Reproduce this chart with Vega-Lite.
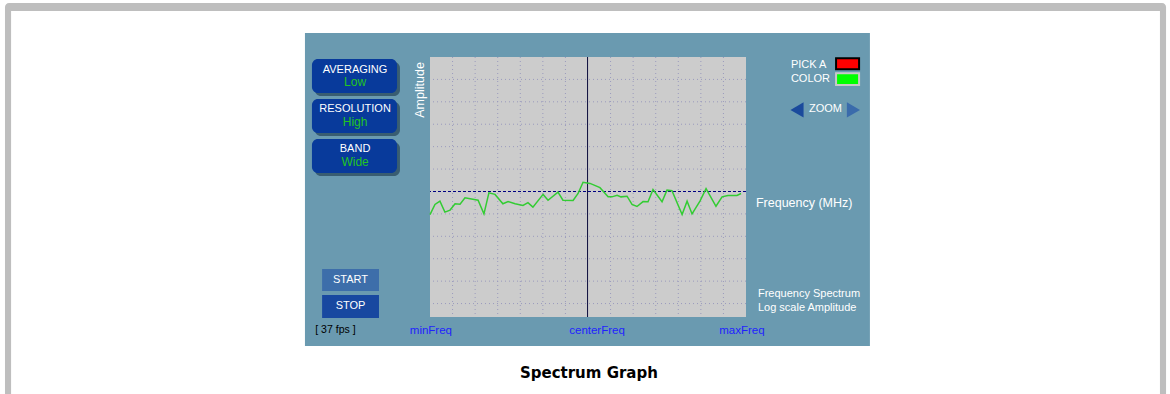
{
  "$schema": "https://vega.github.io/schema/vega-lite/v6.json",
  "width": 316,
  "height": 260,
  "autosize": "none",
  "padding": {"left": 430, "top": 57, "right": 424, "bottom": 77},
  "background": "#ffffff",
  "config": {"view": {"stroke": null}},
  "resolve": {"scale": {"color": "independent", "fill": "independent", "stroke": "independent", "shape": "independent"}},
  "datasets": {
    "frame": [{"part": "frame", "x": -18.83, "x2": 32.61, "y": 8.41, "y2": -9.3}],
    "boxes": [
      {"part": "page", "x": -18.56, "x2": 32.34, "y": 8.05, "y2": -9.3},
      {"part": "panel", "x": -5.54, "x2": 19.49, "y": 7.07, "y2": -6.89},
      {"part": "plot", "x": 0, "x2": 14, "y": 6.0, "y2": -5.6},
      {"part": "start", "x": -4.78, "x2": -2.26, "y": -3.46, "y2": -4.44},
      {"part": "stop", "x": -4.78, "x2": -2.26, "y": -4.62, "y2": -5.64}
    ],
    "shadows": [
      {"x": -5.10, "x2": -1.33, "y": 5.78, "y2": 4.26},
      {"x": -5.10, "x2": -1.33, "y": 3.99, "y2": 2.47},
      {"x": -5.10, "x2": -1.33, "y": 2.20, "y2": 0.69}
    ],
    "buttons": [
      {"x": -5.23, "x2": -1.46, "y": 5.91, "y2": 4.39},
      {"x": -5.23, "x2": -1.46, "y": 4.13, "y2": 2.61},
      {"x": -5.23, "x2": -1.46, "y": 2.34, "y2": 0.82}
    ],
    "swatches": [
      {"part": "red", "x": 17.99, "x2": 19.01, "y": 5.94, "y2": 5.45},
      {"part": "green", "x": 17.99, "x2": 19.01, "y": 5.27, "y2": 4.75}
    ],
    "vgrid": [{"x": 1}, {"x": 2}, {"x": 3}, {"x": 4}, {"x": 5}, {"x": 6}, {"x": 8}, {"x": 9}, {"x": 10}, {"x": 11}, {"x": 12}, {"x": 13}],
    "hgrid": [{"y": 5}, {"y": 4}, {"y": 3}, {"y": 2}, {"y": 1}, {"y": -1}, {"y": -2}, {"y": -3}, {"y": -4}, {"y": -5}],
    "center": [{"x": 6.98}],
    "ref": [{"y": 0}],
    "spectrum": [
      {"f": 0.00, "amp": -1.03}, {"f": 0.22, "amp": -0.58}, {"f": 0.44, "amp": -0.43}, {"f": 0.66, "amp": -0.92},
      {"f": 0.89, "amp": -0.83}, {"f": 1.11, "amp": -0.55}, {"f": 1.33, "amp": -0.57}, {"f": 1.55, "amp": -0.28},
      {"f": 2.13, "amp": -0.39}, {"f": 2.39, "amp": -1.00}, {"f": 2.61, "amp": -0.06}, {"f": 2.88, "amp": -0.13},
      {"f": 3.23, "amp": -0.55}, {"f": 3.46, "amp": -0.45}, {"f": 3.77, "amp": -0.55}, {"f": 4.12, "amp": -0.62},
      {"f": 4.34, "amp": -0.50}, {"f": 4.56, "amp": -0.70}, {"f": 5.01, "amp": -0.13}, {"f": 5.23, "amp": -0.39},
      {"f": 5.67, "amp": -0.03}, {"f": 5.89, "amp": -0.39}, {"f": 6.34, "amp": -0.40}, {"f": 6.56, "amp": -0.09},
      {"f": 6.78, "amp": 0.41}, {"f": 7.09, "amp": 0.36}, {"f": 7.53, "amp": 0.17}, {"f": 7.89, "amp": -0.24},
      {"f": 8.06, "amp": -0.24}, {"f": 8.29, "amp": -0.17}, {"f": 8.46, "amp": -0.24}, {"f": 8.73, "amp": -0.21},
      {"f": 8.95, "amp": -0.58}, {"f": 9.17, "amp": -0.67}, {"f": 9.44, "amp": -0.45}, {"f": 9.66, "amp": -0.46},
      {"f": 9.88, "amp": 0.09}, {"f": 10.28, "amp": -0.46}, {"f": 10.50, "amp": 0.06}, {"f": 10.72, "amp": 0.04},
      {"f": 11.17, "amp": -1.03}, {"f": 11.39, "amp": -0.43}, {"f": 11.61, "amp": -1.00}, {"f": 11.96, "amp": -0.43},
      {"f": 12.23, "amp": 0.13}, {"f": 12.67, "amp": -0.66}, {"f": 12.94, "amp": -0.24}, {"f": 13.20, "amp": -0.18},
      {"f": 13.60, "amp": -0.18}, {"f": 13.78, "amp": -0.09}
    ],
    "arrowLeft": [{"x": 16.26, "y": 3.64}],
    "arrowRight": [{"x": 18.76, "y": 3.64}],
    "whiteSmall": [
      {"label": "AVERAGING", "x": -3.32, "y": 5.42},
      {"label": "RESOLUTION", "x": -3.32, "y": 3.68},
      {"label": "BAND", "x": -3.32, "y": 1.90}
    ],
    "whiteMid": [
      {"label": "START", "x": -3.52, "y": -3.95},
      {"label": "STOP", "x": -3.52, "y": -5.13},
      {"label": "ZOOM", "x": 17.52, "y": 3.68}
    ],
    "whiteLeft": [
      {"label": "PICK A", "x": 15.99, "y": 5.66},
      {"label": "COLOR", "x": 15.99, "y": 5.02},
      {"label": "Frequency Spectrum", "x": 14.53, "y": -4.57},
      {"label": "Log scale Amplitude", "x": 14.53, "y": -5.20}
    ],
    "axisTitle": [{"label": "Frequency (MHz)", "x": 14.44, "y": -0.51}],
    "ampTitle": [{"label": "Amplitude", "x": -0.44, "y": 4.53}],
    "greenText": [
      {"label": "Low", "x": -3.32, "y": 4.88},
      {"label": "High", "x": -3.32, "y": 3.10},
      {"label": "Wide", "x": -3.32, "y": 1.31}
    ],
    "fps": [{"label": "[ 37 fps ]", "x": -4.19, "y": -6.18}],
    "freqLabels": [
      {"label": "minFreq", "x": 0.04, "y": -6.23},
      {"label": "centerFreq", "x": 7.40, "y": -6.23},
      {"label": "maxFreq", "x": 13.82, "y": -6.23}
    ],
    "title": [{"label": "Spectrum Graph", "x": 7.04, "y": -8.10}]
  },
  "layer": [
    {
      "data": {"name": "frame"},
      "mark": {"type": "rect", "cornerRadius": 4, "color": "#bebebe"},
      "encoding": {
        "x": {"field": "x", "type": "quantitative", "scale": {"domain": [0, 14], "nice": false, "zero": false}, "axis": null},
        "x2": {"field": "x2"},
        "y": {"field": "y", "type": "quantitative", "scale": {"domain": [-5.6, 6.0], "nice": false, "zero": false}, "axis": null},
        "y2": {"field": "y2"}
      }
    },
    {
      "data": {"name": "boxes"},
      "mark": {"type": "rect"},
      "encoding": {
        "x": {"field": "x", "type": "quantitative", "axis": null},
        "x2": {"field": "x2"},
        "y": {"field": "y", "type": "quantitative", "axis": null},
        "y2": {"field": "y2"},
        "color": {"field": "part", "type": "nominal", "legend": null,
          "scale": {"domain": ["page", "panel", "plot", "start", "stop"], "range": ["#ffffff", "#6a9ab0", "#cccccc", "#3d6eaa", "#1848a0"]}}
      }
    },
    {
      "data": {"name": "vgrid"},
      "mark": {"type": "rule", "color": "#9a9abd", "strokeDash": [1, 3], "strokeWidth": 1},
      "encoding": {"x": {"field": "x", "type": "quantitative", "axis": null}}
    },
    {
      "data": {"name": "hgrid"},
      "mark": {"type": "rule", "color": "#9a9abd", "strokeDash": [1, 3], "strokeWidth": 1},
      "encoding": {"y": {"field": "y", "type": "quantitative", "axis": null}}
    },
    {
      "data": {"name": "ref"},
      "mark": {"type": "rule", "color": "#000080", "strokeDash": [3, 2], "strokeWidth": 1.2},
      "encoding": {"y": {"field": "y", "type": "quantitative", "axis": null}}
    },
    {
      "data": {"name": "center"},
      "mark": {"type": "rule", "color": "#0c0c3c", "strokeWidth": 1},
      "encoding": {"x": {"field": "x", "type": "quantitative", "axis": null}}
    },
    {
      "data": {"name": "spectrum"},
      "mark": {"type": "line", "color": "#33cc33", "strokeWidth": 1.5},
      "encoding": {
        "x": {"field": "f", "type": "quantitative", "axis": null},
        "y": {"field": "amp", "type": "quantitative", "axis": null}
      }
    },
    {
      "data": {"name": "shadows"},
      "mark": {"type": "rect", "cornerRadius": 6, "color": "#34566a", "opacity": 0.9},
      "encoding": {
        "x": {"field": "x", "type": "quantitative", "axis": null},
        "x2": {"field": "x2"},
        "y": {"field": "y", "type": "quantitative", "axis": null},
        "y2": {"field": "y2"}
      }
    },
    {
      "data": {"name": "buttons"},
      "mark": {"type": "rect", "cornerRadius": 6, "color": "#083a9b", "opacity": 1},
      "encoding": {
        "x": {"field": "x", "type": "quantitative", "axis": null},
        "x2": {"field": "x2"},
        "y": {"field": "y", "type": "quantitative", "axis": null},
        "y2": {"field": "y2"}
      }
    },
    {
      "data": {"name": "swatches"},
      "mark": {"type": "rect", "strokeWidth": 2},
      "encoding": {
        "x": {"field": "x", "type": "quantitative", "axis": null},
        "x2": {"field": "x2"},
        "y": {"field": "y", "type": "quantitative", "axis": null},
        "y2": {"field": "y2"},
        "fill": {"field": "part", "type": "nominal", "legend": null,
          "scale": {"domain": ["red", "green"], "range": ["#ff0000", "#00ff00"]}},
        "stroke": {"field": "part", "type": "nominal", "legend": null,
          "scale": {"domain": ["red", "green"], "range": ["#000000", "#c8c8c8"]}}
      }
    },
    {
      "data": {"name": "arrowLeft"},
      "mark": {"type": "point", "filled": true, "size": 230, "opacity": 1, "shape": "triangle-left", "color": "#1a4a9c"},
      "encoding": {
        "x": {"field": "x", "type": "quantitative", "axis": null},
        "y": {"field": "y", "type": "quantitative", "axis": null}
      }
    },
    {
      "data": {"name": "arrowRight"},
      "mark": {"type": "point", "filled": true, "size": 230, "opacity": 1, "shape": "triangle-right", "color": "#3a6bab"},
      "encoding": {
        "x": {"field": "x", "type": "quantitative", "axis": null},
        "y": {"field": "y", "type": "quantitative", "axis": null}
      }
    },
    {
      "data": {"name": "whiteSmall"},
      "mark": {"type": "text", "font": "Liberation Sans", "fontSize": 11, "color": "#ffffff", "align": "center", "baseline": "middle"},
      "encoding": {
        "x": {"field": "x", "type": "quantitative", "axis": null},
        "y": {"field": "y", "type": "quantitative", "axis": null},
        "text": {"field": "label"}
      }
    },
    {
      "data": {"name": "whiteMid"},
      "mark": {"type": "text", "font": "Liberation Sans", "fontSize": 11, "color": "#ffffff", "align": "center", "baseline": "middle"},
      "encoding": {
        "x": {"field": "x", "type": "quantitative", "axis": null},
        "y": {"field": "y", "type": "quantitative", "axis": null},
        "text": {"field": "label"}
      }
    },
    {
      "data": {"name": "whiteLeft"},
      "mark": {"type": "text", "font": "Liberation Sans", "fontSize": 11, "color": "#ffffff", "align": "left", "baseline": "middle"},
      "encoding": {
        "x": {"field": "x", "type": "quantitative", "axis": null},
        "y": {"field": "y", "type": "quantitative", "axis": null},
        "text": {"field": "label"}
      }
    },
    {
      "data": {"name": "axisTitle"},
      "mark": {"type": "text", "font": "Liberation Sans", "fontSize": 12.5, "color": "#ffffff", "align": "left", "baseline": "middle"},
      "encoding": {
        "x": {"field": "x", "type": "quantitative", "axis": null},
        "y": {"field": "y", "type": "quantitative", "axis": null},
        "text": {"field": "label"}
      }
    },
    {
      "data": {"name": "ampTitle"},
      "mark": {"type": "text", "font": "Liberation Sans", "fontSize": 12.5, "color": "#ffffff", "align": "center", "baseline": "middle", "angle": 270},
      "encoding": {
        "x": {"field": "x", "type": "quantitative", "axis": null},
        "y": {"field": "y", "type": "quantitative", "axis": null},
        "text": {"field": "label"}
      }
    },
    {
      "data": {"name": "greenText"},
      "mark": {"type": "text", "font": "Liberation Sans", "fontSize": 12, "color": "#22c522", "align": "center", "baseline": "middle"},
      "encoding": {
        "x": {"field": "x", "type": "quantitative", "axis": null},
        "y": {"field": "y", "type": "quantitative", "axis": null},
        "text": {"field": "label"}
      }
    },
    {
      "data": {"name": "fps"},
      "mark": {"type": "text", "font": "Liberation Sans", "fontSize": 10.5, "color": "#000000", "align": "center", "baseline": "middle"},
      "encoding": {
        "x": {"field": "x", "type": "quantitative", "axis": null},
        "y": {"field": "y", "type": "quantitative", "axis": null},
        "text": {"field": "label"}
      }
    },
    {
      "data": {"name": "freqLabels"},
      "mark": {"type": "text", "font": "Liberation Sans", "fontSize": 11.5, "color": "#1f1fff", "align": "center", "baseline": "middle"},
      "encoding": {
        "x": {"field": "x", "type": "quantitative", "axis": null},
        "y": {"field": "y", "type": "quantitative", "axis": null},
        "text": {"field": "label"}
      }
    },
    {
      "data": {"name": "title"},
      "mark": {"type": "text", "font": "DejaVu Sans", "fontSize": 15, "fontWeight": "bold", "color": "#000000", "align": "center", "baseline": "middle"},
      "encoding": {
        "x": {"field": "x", "type": "quantitative", "axis": null},
        "y": {"field": "y", "type": "quantitative", "axis": null},
        "text": {"field": "label"}
      }
    }
  ]
}
